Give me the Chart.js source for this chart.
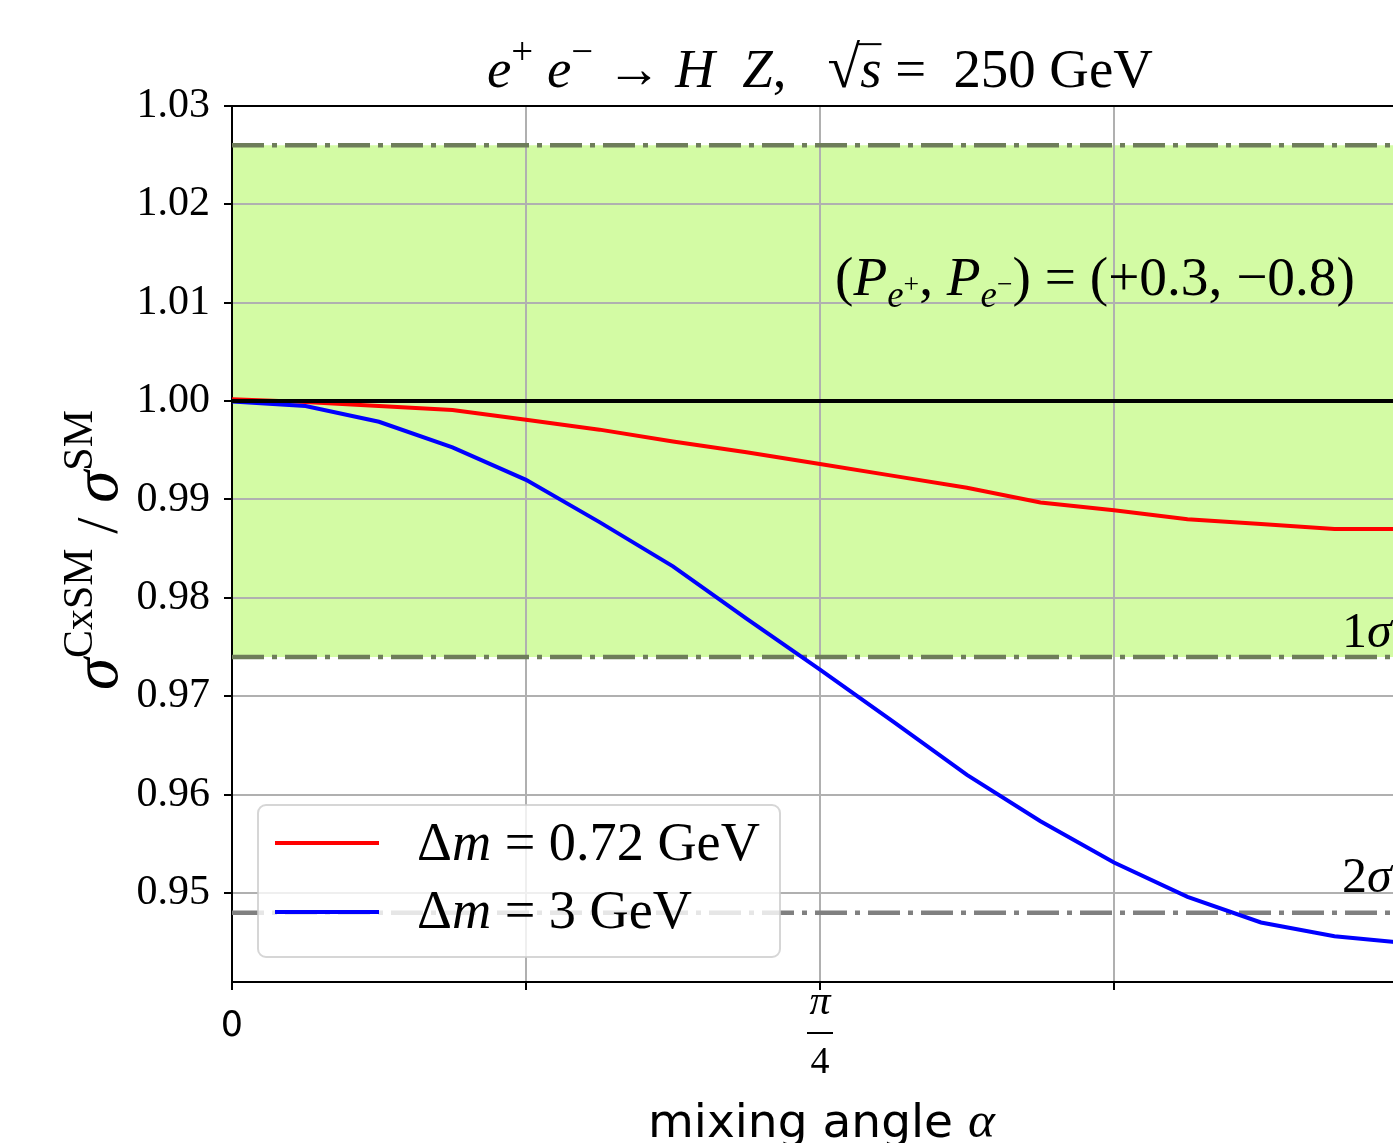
<!DOCTYPE html>
<html>
<head>
<meta charset="utf-8">
<script src="https://cdn.jsdelivr.net/npm/chart.js@4/dist/chart.umd.min.js"></script>
<style>
  html, body { margin: 0; padding: 0; background: #fff; overflow: hidden; }
  #wrap { position: relative; width: 1393px; height: 1143px; overflow: hidden; }
  #chart { position: absolute; left: 0; top: 0; }
</style>
</head>
<body>
<div id="wrap"><canvas id="chart" width="1420" height="1143"></canvas></div>
<script>
// mixing angle alpha (radians), steps of pi/32 up to pi/2
const alphaValues = [0, 0.0982, 0.1963, 0.2945, 0.3927, 0.4909, 0.5890, 0.6872, 0.7854,
                     0.8836, 0.9817, 1.0799, 1.1781, 1.2763, 1.3744, 1.4726, 1.5708];
// sigma(CxSM)/sigma(SM)
const ratioDm072 = [1.0002, 0.9999, 0.9995, 0.9991, 0.9981, 0.9971, 0.9959, 0.9948, 0.9936,
                    0.9924, 0.9912, 0.9897, 0.9889, 0.9880, 0.9875, 0.9870, 0.9870];
const ratioDm3 = [0.99995, 0.9995, 0.9979, 0.9953, 0.9920, 0.9877, 0.9832, 0.9779, 0.9727,
                  0.9674, 0.9620, 0.9573, 0.9531, 0.9496, 0.9470, 0.9456, 0.9449];
const oneSigmaBand = [0.974, 1.026];
const twoSigmaLow = 0.948;
const smLine = 1.0;
const yTicks = [0.95, 0.96, 0.97, 0.98, 0.99, 1.00, 1.01, 1.02, 1.03];
const xTicks = [0, 0.3927, 0.7854, 1.1781, 1.5708];
const xTickLabels = ['0', '', 'π/4', '', ''];
const yRange = [0.94095, 1.03];

const SERIF = '"Liberation Serif", "DejaVu Serif", serif';
const SANS = '"DejaVu Sans", "Liberation Sans", sans-serif';

const flat = (v) => [{ x: alphaValues[0], y: v }, { x: alphaValues[alphaValues.length - 1], y: v }];
const pts = (ys) => alphaValues.map((a, i) => ({ x: a, y: ys[i] }));

// little helper to lay out "math" runs: [text, size, italic, dy, family, overline]
function fontOf(p, k) {
    return (p[2] ? 'italic ' : '') + (p[1] * k) + 'px ' + (p[4] || SERIF);
}
function runWidth(ctx, parts, k) {
    let w = 0;
    for (const p of parts) { ctx.font = fontOf(p, k); w += ctx.measureText(p[0]).width; }
    return w;
}
function drawRun(ctx, parts, x, y, k) {
    ctx.textBaseline = 'alphabetic';
    ctx.textAlign = 'left';
    for (const p of parts) {
        ctx.font = fontOf(p, k);
        const w = ctx.measureText(p[0]).width;
        ctx.fillText(p[0], x, y + (p[3] || 0) * k);
        if (p[5]) {
            ctx.fillRect(x - 2, y - p[1] * k * 0.8, w + 2, 2);
        }
        x += w;
    }
    return x;
}
function fitK(ctx, parts, target) {
    return target / runWidth(ctx, parts, 1);
}

const decorations = {
    id: 'decorations',
    afterDatasetsDraw(chart) {
        const ctx = chart.ctx;
        const a = chart.chartArea;
        ctx.save();
        // top spine
        ctx.fillStyle = '#000';
        ctx.fillRect(a.left - 1, a.top - 1, a.right - a.left + 2, 2);

        // legend box
        const lx = 258, ly = 805, lw = 522, lh = 152, r = 8;
        ctx.beginPath();
        ctx.roundRect(lx, ly, lw, lh, r);
        ctx.fillStyle = 'rgba(255,255,255,0.8)';
        ctx.fill();
        ctx.lineWidth = 2;
        ctx.strokeStyle = 'rgba(204,204,204,0.8)';
        ctx.stroke();
        ctx.lineWidth = 4;
        ctx.strokeStyle = 'red';
        ctx.beginPath(); ctx.moveTo(275, 843); ctx.lineTo(379, 843); ctx.stroke();
        ctx.strokeStyle = 'blue';
        ctx.beginPath(); ctx.moveTo(275, 912); ctx.lineTo(379, 912); ctx.stroke();

        ctx.fillStyle = '#000';
        const leg1 = [['Δ', 48], ['m', 48, true], [' = 0.72 GeV', 48]];
        const leg2 = [['Δ', 48], ['m', 48, true], [' = 3 GeV', 48]];
        const kl = fitK(ctx, leg1, 343);
        drawRun(ctx, leg1, 417, 860, kl);
        drawRun(ctx, leg2, 417, 928, kl);
        ctx.restore();
    },
    afterDraw(chart) {
        const ctx = chart.ctx;
        const xs = chart.scales.x;
        ctx.save();
        ctx.fillStyle = '#000';

        // title
        const title = [['e', 48, true], ['+', 34, false, -20], [' ', 48], ['e', 48, true], ['−', 34, false, -20],
                       [' → ', 48], ['H', 48, true], ['  ', 48], ['Z', 48, true], [',   ', 48],
                       ['√', 52], ['s', 48, true, 0, SERIF, true], [' =  250 GeV', 48]];
        drawRun(ctx, title, 487, 87, fitK(ctx, title, 666));

        // polarisation note
        const note = [['(', 48], ['P', 48, true], ['e', 32, true, 10], ['+', 24, false, -2], [', ', 48],
                      ['P', 48, true], ['e', 32, true, 10], ['−', 24, false, -2], [') = (+0.3, −0.8)', 48]];
        drawRun(ctx, note, 835, 295, fitK(ctx, note, 520));

        // sigma labels
        drawRun(ctx, [['1', 50], ['σ', 50, true]], 1342, 647, 1);
        drawRun(ctx, [['2', 50], ['σ', 50, true]], 1342, 892, 1);

        // x tick labels
        xTickLabels.forEach((lab, i) => {
            if (!lab) return;
            const px = xs.getPixelForValue(xTicks[i]);
            ctx.textAlign = 'center';
            ctx.textBaseline = 'alphabetic';
            if (lab === 'π/4') {
                ctx.font = 'italic 42px ' + SERIF;
                ctx.fillText('π', px, 1014);
                ctx.fillRect(px - 13, 1032, 26, 2);
                ctx.font = '38px ' + SERIF;
                ctx.fillText('4', px, 1073);
            } else {
                ctx.font = '35px ' + SANS;
                ctx.fillText(lab, px, 1036);
            }
        });

        // x axis label
        const xl = [['mixing angle ', 46, false, 0, SANS], ['α', 50, true]];
        drawRun(ctx, xl, 648, 1137, fitK(ctx, xl, 347));

        // y axis label (rotated)
        ctx.translate(117, 690);
        ctx.rotate(-Math.PI / 2);
        const yl = [['σ', 62, true], ['CxSM', 40, false, -24], [' / ', 56], ['σ', 62, true], ['SM', 40, false, -24]];
        drawRun(ctx, yl, 0, 0, fitK(ctx, yl, 280));
        ctx.restore();
    }
};

const dashDot = [32, 8, 5, 8];

const chartData = {
    datasets: [
        {   // upper 1 sigma, fills down to the lower one
            data: flat(oneSigmaBand[1]),
            borderColor: 'rgb(110,125,90)',
            borderWidth: 4.5,
            borderDash: dashDot,
            backgroundColor: 'rgb(211,251,164)',
            fill: '+1',
            order: 5
        },
        {
            data: flat(oneSigmaBand[0]),
            borderColor: 'rgb(110,125,90)',
            borderWidth: 4.5,
            borderDash: dashDot,
            fill: false,
            order: 4
        },
        {
            data: flat(twoSigmaLow),
            borderColor: 'rgb(128,128,128)',
            borderWidth: 4.5,
            borderDash: dashDot,
            fill: false,
            order: 3
        },
        {
            label: 'Δm = 0.72 GeV',
            data: pts(ratioDm072),
            borderColor: 'red',
            borderWidth: 4,
            fill: false,
            order: 2
        },
        {
            label: 'Δm = 3 GeV',
            data: pts(ratioDm3),
            borderColor: 'blue',
            borderWidth: 4,
            fill: false,
            order: 1
        },
        {
            data: flat(smLine),
            borderColor: 'black',
            borderWidth: 4,
            fill: false,
            order: 0
        }
    ]
};

const chartConfig = {
    type: 'line',
    data: chartData,
    options: {
        responsive: false,
        animation: false,
        devicePixelRatio: 1,
        elements: { point: { radius: 0 }, line: { tension: 0 } },
        layout: { padding: { top: 106, right: 12, left: 0, bottom: 0 } },
        plugins: {
            legend: { display: false },
            tooltip: { enabled: false },
            filler: { drawTime: 'beforeDraw' }
        },
        scales: {
            x: {
                type: 'linear',
                min: 0,
                max: xTicks[xTicks.length - 1],
                afterBuildTicks: (s) => { s.ticks = xTicks.map(v => ({ value: v })); },
                afterFit: (s) => { s.height = 161; },
                ticks: { display: false },
                grid: { color: '#b0b0b0', lineWidth: 2, tickLength: 8, tickColor: '#000', tickWidth: 2 },
                border: { color: '#000', width: 2 }
            },
            y: {
                type: 'linear',
                min: yRange[0],
                max: yRange[1],
                afterBuildTicks: (s) => { s.ticks = yTicks.map(v => ({ value: v })); },
                afterFit: (s) => { s.width = 232; },
                ticks: {
                    color: '#000',
                    padding: 14,
                    font: { family: SERIF, size: 42 },
                    callback: (v) => v.toFixed(2)
                },
                grid: { color: '#b0b0b0', lineWidth: 2, tickLength: 8, tickColor: '#000', tickWidth: 2 },
                border: { color: '#000', width: 2 }
            }
        }
    },
    plugins: [decorations]
};

const chart = new Chart(document.getElementById('chart'), chartConfig);
</script>
</body>
</html>
